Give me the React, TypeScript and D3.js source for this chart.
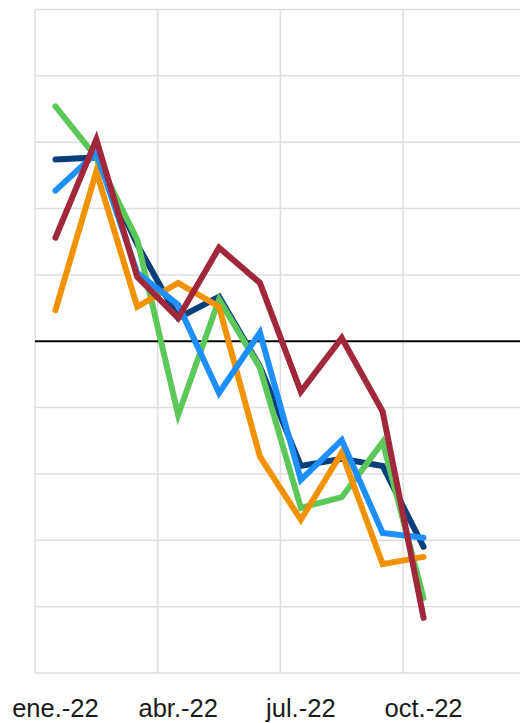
import { useEffect, useRef } from "react";
import * as d3 from "d3";

// months of the band axis (full year so the plot runs past the right edge)
const months = ["ene.-22", "feb.-22", "mar.-22", "abr.-22", "may.-22", "jun.-22", "jul.-22", "ago.-22", "sep.-22", "oct.-22", "nov.-22", "dic.-22"];
const tickMonths = ["ene.-22", "abr.-22", "jul.-22", "oct.-22"];
const yTicks = [-5, -4, -3, -2, -1, 0, 1, 2, 3, 4, 5];

// series values, ene.-22 .. oct.-22 (no units shown on the chart)
const navy = [2.74, 2.77, 1.46, 0.35, 0.67, -0.38, -1.88, -1.77, -1.88, -3.1];
const green = [3.54, 2.77, 1.53, -1.11, 0.63, -0.4, -2.51, -2.35, -1.52, -3.87];
const orange = [0.47, 2.56, 0.52, 0.88, 0.52, -1.74, -2.69, -1.68, -3.36, -3.25];
const blue = [2.27, 2.84, 1.03, 0.55, -0.78, 0.13, -2.09, -1.49, -2.89, -2.96];
const red = [1.56, 3.04, 0.97, 0.35, 1.41, 0.88, -0.76, 0.05, -1.06, -4.17];

const seriesList = [
  { name: "navy", values: navy, color: "#0b3f7c" },
  { name: "green", values: green, color: "#5cc85a" },
  { name: "orange", values: orange, color: "#f39200" },
  { name: "blue", values: blue, color: "#1e8fff" },
  { name: "red", values: red, color: "#a1283b" },
];

export default function App() {
  const ref = useRef<SVGSVGElement | null>(null);
  const width = 520;
  const height = 723;

  useEffect(() => {
    const svg = d3.select(ref.current);
    svg.selectAll("*").remove();

    /* -------- scales -------- */
    const left = 35;
    const step = 40.9;
    const x = d3
      .scaleBand<string>()
      .domain(months)
      .range([left, left + step * months.length])
      .padding(0);
    const bw = x.bandwidth();
    const cx = (i: number) => (x(months[i]) as number) + bw / 2;

    const y = d3.scaleLinear().domain([-5, 5]).range([673, 9.5]);

    /* -------- grid -------- */
    const grid = svg.append("g");
    grid
      .selectAll("line.h")
      .data(yTicks.filter((d) => d !== 0))
      .join("line")
      .attr("class", "h")
      .attr("x1", left)
      .attr("x2", width + 10)
      .attr("y1", (d) => y(d))
      .attr("y2", (d) => y(d))
      .attr("stroke", "#dedede")
      .attr("stroke-width", 1.5);

    grid
      .selectAll("line.v")
      .data(tickMonths)
      .join("line")
      .attr("class", "v")
      .attr("x1", (d) => x(d) as number)
      .attr("x2", (d) => x(d) as number)
      .attr("y1", y(5))
      .attr("y2", y(-5))
      .attr("stroke", "#dedede")
      .attr("stroke-width", 1.5);

    // zero line
    svg
      .append("line")
      .attr("x1", left)
      .attr("x2", width + 10)
      .attr("y1", y(0))
      .attr("y2", y(0))
      .attr("stroke", "#000")
      .attr("stroke-width", 2);

    /* -------- lines -------- */
    const line = d3
      .line<number>()
      .x((_, i) => cx(i))
      .y((d) => y(d));

    svg
      .append("g")
      .selectAll("path")
      .data(seriesList)
      .join("path")
      .attr("d", (s) => line(s.values))
      .attr("fill", "none")
      .attr("stroke", (s) => s.color)
      .attr("stroke-width", 6)
      .attr("stroke-linejoin", "miter")
      .attr("stroke-linecap", "round");

    /* -------- x labels -------- */
    svg
      .append("g")
      .selectAll("text")
      .data(tickMonths)
      .join("text")
      .attr("x", (d) => (x(d) as number) + bw / 2)
      .attr("y", 717)
      .attr("text-anchor", "middle")
      .attr("fill", "#1a1a1a")
      .style("font-family", "Helvetica, 'Liberation Sans', Arial, sans-serif")
      .style("font-size", "25.5px")
      .text((d) => d);
  }, []);

  return (
    <svg
      ref={ref}
      width={width}
      height={height}
      style={{ position: "absolute", left: 0, top: 0, display: "block", background: "#fff" }}
    />
  );
}
